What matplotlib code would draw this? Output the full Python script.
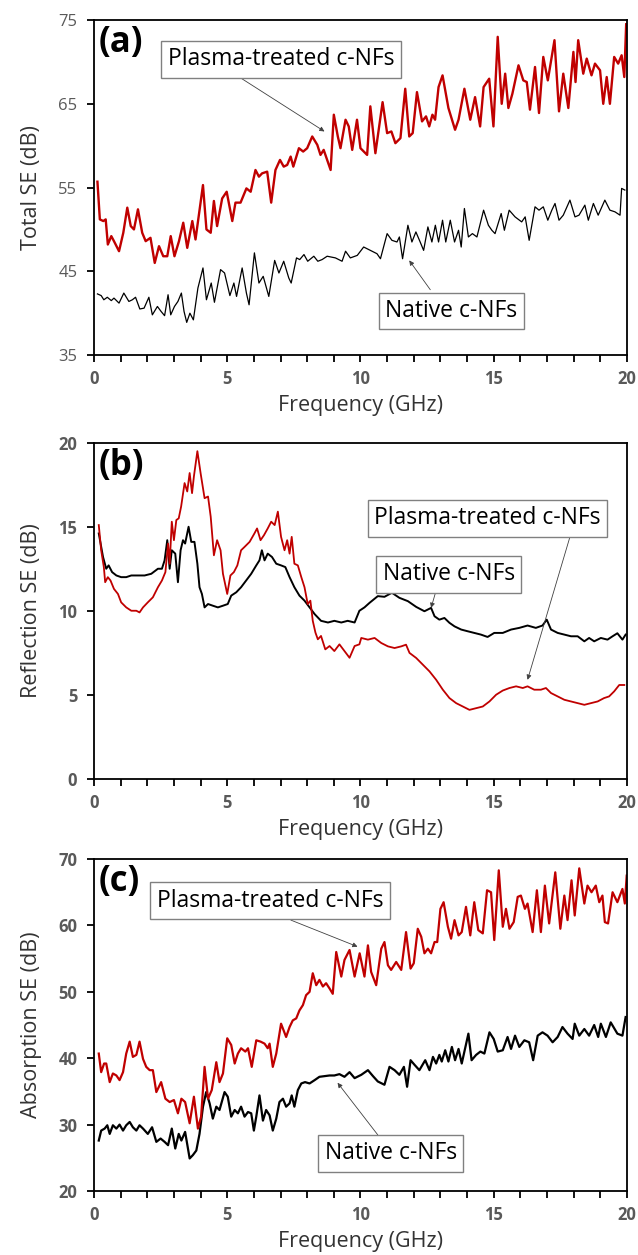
import matplotlib
matplotlib.use("Agg")
import matplotlib.pyplot as plt
from matplotlib.ticker import MultipleLocator

plt.rcParams["font.family"] = ["Open Sans", "DejaVu Sans"]

RED = "#c00000"
TICK_GRAY = "#595959"

# ---- (a) Total SE ----
a_plasma_f = [0.13, 0.22, 0.35, 0.44, 0.52, 0.65, 0.75, 0.94, 1.1, 1.25,
              1.38, 1.5, 1.65, 1.81, 1.94, 2.12, 2.28, 2.44, 2.6, 2.75,
              2.88, 3.02, 3.19, 3.35, 3.5, 3.69, 3.81, 4.09, 4.22, 4.38,
              4.5, 4.62, 4.81, 4.98, 5.19, 5.31, 5.5, 5.72, 5.88, 6.06,
              6.19, 6.31, 6.5, 6.65, 6.81, 6.98, 7.12, 7.25, 7.38, 7.48,
              7.69, 7.85, 8.0, 8.19, 8.38, 8.5, 8.62, 8.75, 8.88, 9.0,
              9.15, 9.25, 9.44, 9.56, 9.69, 9.87, 10.0, 10.25, 10.37, 10.56,
              10.83, 11.0, 11.16, 11.31, 11.5, 11.68, 11.83, 11.96, 12.12, 12.31,
              12.46, 12.58, 12.7, 12.8, 12.93, 13.08, 13.3, 13.55, 13.68, 13.9,
              14.12, 14.3, 14.49, 14.62, 14.83, 14.99, 15.15, 15.3, 15.43, 15.55,
              15.7, 15.93, 16.11, 16.24, 16.36, 16.55, 16.7, 16.86, 17.03, 17.28,
              17.45, 17.61, 17.8, 17.99, 18.07, 18.17, 18.36, 18.49, 18.67, 18.8,
              18.99, 19.11, 19.24, 19.36, 19.52, 19.67, 19.8, 19.9, 19.97]
a_plasma_se = [55.7, 51.2, 51.0, 51.2, 48.2, 49.2, 48.6, 47.4, 49.6, 52.6,
               50.4, 50.0, 52.4, 49.6, 48.6, 49.0, 46.0, 48.0, 46.8, 46.8,
               49.2, 46.8, 48.6, 50.8, 47.8, 51.0, 48.8, 55.3, 50.0, 49.6,
               53.4, 50.4, 53.7, 54.5, 51.0, 53.2, 53.2, 54.9, 54.5, 57.1,
               56.3, 56.7, 56.9, 53.2, 57.1, 58.3, 57.5, 57.7, 58.7, 57.5,
               59.7, 59.3, 59.7, 61.1, 60.1, 58.9, 59.5, 58.3, 57.1, 63.7,
               61.1, 59.7, 63.1, 62.3, 59.5, 63.1, 59.7, 58.9, 64.7, 59.1,
               65.2, 61.5, 61.7, 60.3, 60.9, 66.8, 61.1, 61.5, 66.4, 62.9,
               63.5, 62.3, 63.7, 63.1, 67.0, 68.4, 64.5, 61.9, 63.1, 66.8,
               63.1, 65.8, 62.3, 67.0, 68.0, 62.3, 73.0, 65.0, 68.6, 64.5,
               66.2, 69.6, 67.8, 67.6, 64.3, 69.4, 63.9, 70.6, 67.8, 72.6,
               64.1, 68.6, 64.5, 71.2, 67.6, 72.6, 68.6, 70.4, 68.4, 69.8,
               69.0, 65.0, 68.2, 65.0, 70.6, 69.8, 70.8, 68.2, 74.5]

a_native_f = [0.13, 0.27, 0.37, 0.5, 0.65, 0.75, 0.94, 1.12, 1.31, 1.44,
              1.56, 1.72, 1.88, 2.06, 2.19, 2.38, 2.52, 2.65, 2.78, 2.88,
              3.02, 3.15, 3.28, 3.38, 3.48, 3.6, 3.73, 3.9, 4.09, 4.22,
              4.4, 4.52, 4.75, 4.9, 5.1, 5.25, 5.35, 5.56, 5.72, 5.82,
              6.02, 6.19, 6.35, 6.56, 6.78, 6.94, 7.12, 7.31, 7.4, 7.6,
              7.72, 7.88, 8.02, 8.25, 8.4, 8.56, 8.75, 9.06, 9.31, 9.44,
              9.62, 9.88, 10.12, 10.37, 10.62, 10.75, 11.0, 11.18, 11.37, 11.46,
              11.58, 11.78, 11.93, 12.08, 12.24, 12.37, 12.53, 12.68, 12.81, 12.93,
              13.08, 13.2, 13.37, 13.53, 13.68, 13.78, 13.9, 14.05, 14.2, 14.37,
              14.62, 14.8, 14.93, 15.05, 15.28, 15.4, 15.58, 15.8, 16.05, 16.18,
              16.33, 16.55, 16.7, 16.86, 17.03, 17.18, 17.3, 17.45, 17.61, 17.86,
              18.05, 18.2, 18.42, 18.55, 18.74, 18.92, 19.17, 19.36, 19.55, 19.74,
              19.8, 19.92]
a_native_se = [42.3, 42.1, 41.6, 41.9, 41.5, 41.8, 41.2, 42.4, 41.4, 41.6,
               41.9, 40.5, 40.6, 41.9, 39.8, 40.8, 40.2, 39.7, 42.2, 39.8,
               40.8, 41.4, 42.4, 40.2, 38.9, 40.0, 39.2, 43.0, 45.4, 41.6,
               43.6, 41.3, 45.2, 44.8, 42.1, 43.6, 42.0, 45.4, 42.4, 41.0,
               47.2, 43.6, 44.4, 42.0, 46.3, 44.8, 46.2, 44.2, 43.6, 46.6,
               46.4, 47.0, 46.2, 46.8, 46.2, 46.4, 46.8, 46.6, 46.2, 47.4,
               46.6, 46.9, 47.9, 47.5, 47.1, 46.5, 49.5, 48.7, 48.5, 49.1,
               46.5, 50.5, 48.5, 49.7, 48.5, 47.5, 50.3, 48.5, 50.5, 48.5,
               51.1, 48.5, 51.1, 48.5, 49.9, 47.9, 52.5, 49.1, 49.5, 49.1,
               52.3, 50.5, 49.9, 49.5, 51.9, 49.9, 52.3, 51.5, 50.9, 51.5,
               48.7, 52.7, 52.3, 52.7, 51.1, 52.3, 53.1, 51.1, 51.7, 53.5,
               51.5, 51.7, 52.9, 51.1, 53.1, 51.7, 53.5, 52.3, 52.1, 51.7,
               54.9, 54.7]

# ---- (b) Reflection SE ----
b_plasma_f = [0.18, 0.27, 0.37, 0.42, 0.52, 0.62, 0.75, 0.9, 1.02, 1.21,
              1.4, 1.59, 1.71, 1.84, 2.02, 2.21, 2.4, 2.55, 2.68, 2.78,
              2.84, 2.92, 3.0, 3.09, 3.18, 3.27, 3.4, 3.5, 3.59, 3.68,
              3.75, 3.88, 4.0, 4.15, 4.28, 4.38, 4.5, 4.62, 4.75, 4.84,
              5.0, 5.12, 5.25, 5.38, 5.52, 5.65, 5.84, 6.02, 6.12, 6.25,
              6.38, 6.52, 6.65, 6.78, 6.9, 7.02, 7.15, 7.25, 7.34, 7.42,
              7.52, 7.65, 7.78, 7.9, 8.02, 8.12, 8.21, 8.31, 8.4, 8.52,
              8.68, 8.84, 9.02, 9.21, 9.4, 9.59, 9.78, 9.96, 10.03, 10.28,
              10.53, 10.78, 11.03, 11.28, 11.53, 11.71, 11.84, 12.09, 12.34, 12.59,
              12.84, 13.09, 13.34, 13.59, 13.84, 14.09, 14.34, 14.59, 14.84, 15.09,
              15.34, 15.59, 15.84, 16.09, 16.27, 16.52, 16.77, 16.96, 17.15, 17.4,
              17.65, 17.9, 18.15, 18.4, 18.65, 18.9, 19.14, 19.33, 19.52, 19.71,
              19.9]
b_plasma_se = [15.1, 13.6, 12.6, 11.7, 12.0, 11.8, 11.3, 11.0, 10.5, 10.2,
               10.0, 10.0, 9.9, 10.2, 10.5, 10.8, 11.4, 11.8, 12.3, 14.0,
               12.8, 15.3, 14.2, 15.4, 15.5, 16.2, 17.6, 17.1, 18.2, 17.0,
               18.0, 19.5, 18.2, 16.7, 16.8, 15.6, 13.3, 14.2, 13.6, 12.2,
               11.0, 12.1, 12.3, 12.7, 13.6, 13.8, 14.1, 14.6, 14.9, 14.2,
               14.5, 14.9, 15.3, 15.1, 15.9, 14.4, 13.6, 14.2, 13.4, 14.4,
               12.8, 12.7, 12.0, 11.4, 10.4, 10.6, 9.4, 8.7, 8.3, 8.5,
               7.7, 7.9, 7.6, 8.0, 7.6, 7.2, 7.9, 8.0, 8.38, 8.28,
               8.38, 8.08, 7.88, 7.78, 7.88, 7.98, 7.49, 7.19, 6.79, 6.39,
               5.89, 5.30, 4.80, 4.50, 4.30, 4.10, 4.20, 4.30, 4.60, 5.00,
               5.25, 5.40, 5.50, 5.40, 5.50, 5.30, 5.30, 5.40, 5.10, 4.90,
               4.70, 4.60, 4.50, 4.40, 4.50, 4.60, 4.80, 4.90, 5.20, 5.58,
               5.58]

b_native_f = [0.18, 0.34, 0.46, 0.55, 0.68, 0.84, 1.02, 1.21, 1.4, 1.65,
              1.9, 2.15, 2.4, 2.55, 2.65, 2.75, 2.84, 2.92, 3.05, 3.15,
              3.25, 3.34, 3.42, 3.55, 3.65, 3.77, 3.88, 3.96, 4.05, 4.15,
              4.28, 4.46, 4.65, 4.84, 5.02, 5.15, 5.34, 5.52, 5.71, 5.9,
              6.09, 6.21, 6.3, 6.4, 6.52, 6.68, 6.84, 7.02, 7.18, 7.34,
              7.52, 7.71, 7.9, 8.09, 8.28, 8.52, 8.78, 9.02, 9.28, 9.52,
              9.78, 9.96, 10.15, 10.34, 10.65, 10.9, 11.18, 11.46, 11.78, 12.09,
              12.4, 12.65, 12.78, 12.96, 13.15, 13.34, 13.53, 13.78, 14.02, 14.27,
              14.52, 14.77, 15.02, 15.34, 15.65, 15.96, 16.27, 16.58, 16.83, 16.99,
              17.15, 17.4, 17.65, 17.9, 18.15, 18.4, 18.58, 18.77, 19.02, 19.27,
              19.46, 19.64, 19.83, 19.95]
b_native_se = [14.6, 13.2, 12.5, 12.7, 12.3, 12.1, 12.0, 12.0, 12.1, 12.1,
               12.1, 12.2, 12.5, 12.5, 13.0, 14.2, 12.5, 13.6, 13.4, 11.7,
               13.6, 14.2, 14.0, 15.0, 14.1, 14.1, 12.8, 11.4, 11.0, 10.2,
               10.4, 10.3, 10.2, 10.3, 10.4, 10.9, 11.1, 11.4, 11.8, 12.2,
               12.7, 13.0, 13.6, 13.0, 13.4, 13.2, 12.8, 12.7, 12.6, 12.0,
               11.4, 10.9, 10.6, 10.2, 9.8, 9.4, 9.3, 9.4, 9.3, 9.4,
               9.3, 10.0, 10.2, 10.47, 10.87, 10.83, 11.07, 10.77, 10.57, 10.23,
               9.97, 10.17, 9.67, 9.47, 9.57, 9.28, 9.07, 8.88, 8.78, 8.68,
               8.58, 8.44, 8.68, 8.68, 8.88, 8.98, 9.12, 8.98, 9.12, 9.47,
               8.88, 8.68, 8.58, 8.48, 8.48, 8.18, 8.38, 8.18, 8.38, 8.28,
               8.48, 8.66, 8.28, 8.58]

# ---- (c) Absorption SE ----
c_plasma_f = [0.18, 0.27, 0.38, 0.46, 0.59, 0.71, 0.84, 0.96, 1.09, 1.21,
              1.34, 1.46, 1.59, 1.71, 1.84, 1.96, 2.09, 2.21, 2.34, 2.52,
              2.68, 2.84, 3.0, 3.15, 3.28, 3.42, 3.59, 3.75, 3.9, 4.02,
              4.15, 4.28, 4.42, 4.59, 4.71, 4.84, 5.0, 5.15, 5.28, 5.4,
              5.52, 5.68, 5.78, 5.92, 6.09, 6.25, 6.4, 6.52, 6.59, 6.71,
              6.84, 7.02, 7.21, 7.34, 7.46, 7.59, 7.71, 7.84, 7.96, 8.09,
              8.21, 8.34, 8.46, 8.59, 8.71, 8.84, 8.96, 9.09, 9.28, 9.4,
              9.59, 9.78, 9.97, 10.15, 10.28, 10.4, 10.59, 10.78, 10.9, 11.03,
              11.15, 11.34, 11.53, 11.71, 11.88, 12.0, 12.15, 12.28, 12.4, 12.53,
              12.65, 12.78, 12.88, 13.0, 13.12, 13.28, 13.4, 13.53, 13.68, 13.8,
              13.96, 14.12, 14.27, 14.42, 14.59, 14.75, 14.9, 15.02, 15.19, 15.34,
              15.46, 15.59, 15.75, 15.9, 16.02, 16.17, 16.27, 16.46, 16.62, 16.77,
              16.92, 17.08, 17.31, 17.5, 17.65, 17.77, 17.92, 18.04, 18.21, 18.4,
              18.52, 18.67, 18.83, 18.96, 19.08, 19.17, 19.29, 19.46, 19.64, 19.83,
              19.92, 19.99]
c_plasma_se = [40.7, 37.9, 39.2, 39.2, 36.4, 37.7, 37.4, 36.7, 37.9, 40.7,
               42.5, 40.2, 40.5, 42.5, 39.9, 38.7, 38.2, 38.2, 34.9, 36.4,
               33.9, 33.4, 33.7, 31.7, 33.9, 33.4, 30.2, 34.2, 29.4, 31.2,
               38.7, 33.9, 35.2, 39.4, 36.4, 37.7, 43.0, 42.0, 39.2, 40.7,
               41.5, 41.0, 41.5, 38.7, 42.7, 42.5, 42.2, 41.5, 42.2, 38.7,
               40.7, 45.2, 43.2, 44.7, 45.7, 46.0, 47.2, 48.0, 49.5, 50.0,
               52.8, 51.0, 51.8, 50.8, 51.3, 50.5, 49.7, 56.0, 52.3, 54.8,
               56.3, 52.3, 55.8, 52.3, 57.0, 53.0, 51.0, 56.5, 57.5, 54.0,
               53.3, 54.5, 53.3, 59.0, 53.5, 54.3, 59.5, 58.3, 55.8, 56.5,
               55.8, 57.5, 57.5, 62.5, 63.5, 59.8, 58.0, 60.8, 58.5, 59.0,
               62.8, 58.5, 63.5, 59.3, 58.8, 65.3, 65.0, 57.8, 68.3, 59.8,
               62.5, 59.5, 60.5, 64.3, 64.5, 62.5, 63.3, 59.0, 65.3, 59.0,
               66.0, 60.3, 68.0, 59.5, 64.5, 60.8, 66.8, 61.5, 68.6, 63.3,
               66.0, 65.0, 66.0, 63.5, 64.5, 60.5, 60.3, 65.0, 63.5, 65.5,
               63.3, 67.5]

c_native_f = [0.18, 0.27, 0.4, 0.5, 0.59, 0.71, 0.84, 0.96, 1.09, 1.21,
              1.34, 1.46, 1.59, 1.71, 1.84, 2.02, 2.18, 2.34, 2.5, 2.65,
              2.78, 2.92, 3.05, 3.18, 3.28, 3.42, 3.59, 3.71, 3.84, 3.96,
              4.09, 4.21, 4.34, 4.46, 4.59, 4.71, 4.9, 5.02, 5.15, 5.28,
              5.4, 5.52, 5.65, 5.78, 5.9, 6.0, 6.09, 6.21, 6.34, 6.46,
              6.59, 6.71, 6.84, 6.96, 7.09, 7.21, 7.34, 7.42, 7.52, 7.65,
              7.78, 7.92, 8.09, 8.28, 8.46, 8.65, 8.84, 9.02, 9.21, 9.4,
              9.59, 9.78, 10.03, 10.28, 10.47, 10.65, 10.9, 11.09, 11.28, 11.46,
              11.63, 11.75, 11.88, 12.03, 12.21, 12.43, 12.59, 12.72, 12.84, 12.96,
              13.05, 13.18, 13.3, 13.43, 13.55, 13.68, 13.8, 13.94, 14.05, 14.17,
              14.34, 14.5, 14.65, 14.84, 15.0, 15.15, 15.34, 15.52, 15.65, 15.8,
              15.96, 16.15, 16.33, 16.48, 16.65, 16.83, 17.02, 17.21, 17.4, 17.58,
              17.77, 17.96, 18.04, 18.21, 18.4, 18.58, 18.77, 18.92, 19.02, 19.21,
              19.39, 19.64, 19.83, 19.95]
c_native_se = [27.6, 29.1, 29.4, 29.9, 28.6, 29.9, 29.4, 30.0, 29.1, 29.9,
               30.4, 29.6, 29.1, 29.9, 29.4, 28.6, 29.6, 27.4, 27.9, 27.4,
               26.9, 29.4, 26.4, 28.6, 27.6, 28.9, 24.9, 25.4, 26.1, 28.6,
               32.7, 34.9, 33.2, 30.9, 32.7, 32.2, 34.9, 34.2, 31.2, 32.2,
               31.7, 32.7, 31.2, 31.9, 31.7, 29.1, 31.2, 34.4, 30.6, 32.2,
               31.4, 29.1, 30.9, 33.4, 33.9, 32.7, 33.2, 34.4, 32.7, 35.2,
               36.2, 36.4, 36.2, 36.7, 37.2, 37.3, 37.4, 37.4, 37.6, 37.2,
               37.9, 37.0, 37.5, 38.2, 37.3, 36.5, 36.0, 38.7, 38.2, 37.5,
               38.7, 35.7, 39.7, 39.0, 38.2, 39.7, 38.2, 40.2, 39.2, 40.5,
               39.5, 41.2, 39.5, 41.7, 39.7, 41.4, 39.2, 41.7, 43.7, 39.7,
               40.5, 41.0, 40.7, 43.9, 42.9, 41.0, 41.2, 43.2, 41.4, 43.4,
               41.7, 42.7, 42.4, 39.7, 43.4, 43.9, 43.4, 42.4, 43.2, 44.7,
               43.7, 42.9, 45.2, 43.4, 44.4, 43.4, 45.0, 43.2, 45.2, 43.2,
               45.4, 43.7, 43.4, 46.2]

a_yticks = [35, 45, 55, 65, 75]
b_yticks = [0, 5, 10, 15, 20]
c_yticks = [20, 30, 40, 50, 60, 70]

PLASMA = "Plasma-treated c-NFs"
NATIVE = "Native c-NFs"


def style_axis(ax, yticks, ylabel, letter, bold_y):
    ax.set_xlim(0, 20)
    ax.set_ylim(yticks[0], yticks[-1])
    ax.set_yticks(yticks)
    ax.xaxis.set_major_locator(MultipleLocator(5))
    ax.xaxis.set_minor_locator(MultipleLocator(1))
    ax.tick_params(axis="both", which="both", direction="out", length=5,
                   width=1.3, colors="black", labelcolor=TICK_GRAY, labelsize=12)
    ax.tick_params(axis="x", which="both", pad=6, top=False)
    ax.tick_params(axis="y", which="both", pad=7, right=False)
    for lab in ax.get_xticklabels():
        lab.set_fontweight("bold")
    for lab in ax.get_yticklabels():
        lab.set_fontweight("bold" if bold_y else "normal")
    for sp in ax.spines.values():
        sp.set_linewidth(1.3)
        sp.set_color("black")
    ax.set_xlabel("Frequency (GHz)", fontsize=15.5, color="#333333", labelpad=5)
    ax.set_ylabel(ylabel, fontsize=15.5, color="#333333", labelpad=12)
    ax.text(0.008, 0.985, letter, transform=ax.transAxes, ha="left", va="top",
            fontsize=25, fontweight="bold", color="black")


def label_box(ax, text, center, start, tip):
    ax.text(center[0], center[1], text, ha="center", va="center", fontsize=16.5,
            color="black", zorder=5,
            bbox=dict(boxstyle="square,pad=0.28", fc="white", ec="#808080", lw=1.0))
    ax.annotate("", xy=tip, xytext=start, zorder=4,
                arrowprops=dict(arrowstyle="-|>", color="#404040", lw=0.6,
                                mutation_scale=7, shrinkA=0, shrinkB=0))


fig = plt.figure(figsize=(6.38, 12.55), dpi=100)
ax_a = fig.add_axes([0.1473, 0.7171, 0.8354, 0.2669])
ax_b = fig.add_axes([0.1473, 0.3795, 0.8354, 0.2677])
ax_c = fig.add_axes([0.1473, 0.0510, 0.8354, 0.2645])

ax_a.plot(a_native_f, a_native_se, color="black", lw=0.9)
ax_a.plot(a_plasma_f, a_plasma_se, color=RED, lw=1.7)
style_axis(ax_a, a_yticks, "Total SE (dB)", "(a)", False)
label_box(ax_a, PLASMA, (7.02, 70.3), (5.4, 68.3), (8.65, 61.7))
label_box(ax_a, NATIVE, (13.4, 40.25), (12.62, 42.8), (11.83, 46.3))

ax_b.plot(b_native_f, b_native_se, color="black", lw=1.4)
ax_b.plot(b_plasma_f, b_plasma_se, color=RED, lw=1.3)
style_axis(ax_b, b_yticks, "Reflection SE (dB)", "(b)", True)
label_box(ax_b, PLASMA, (14.76, 15.5), (17.87, 14.45), (16.27, 5.89))
label_box(ax_b, NATIVE, (13.31, 12.18), (12.83, 11.16), (12.65, 10.17))

ax_c.plot(c_native_f, c_native_se, color="black", lw=1.6)
ax_c.plot(c_plasma_f, c_plasma_se, color=RED, lw=1.6)
style_axis(ax_c, c_yticks, "Absorption SE (dB)", "(c)", True)
label_box(ax_c, PLASMA, (6.61, 63.7), (7.39, 60.8), (9.89, 56.8))
label_box(ax_c, NATIVE, (11.14, 25.7), (10.65, 28.45), (9.14, 36.3))

fig.savefig("out.png", dpi=100)
